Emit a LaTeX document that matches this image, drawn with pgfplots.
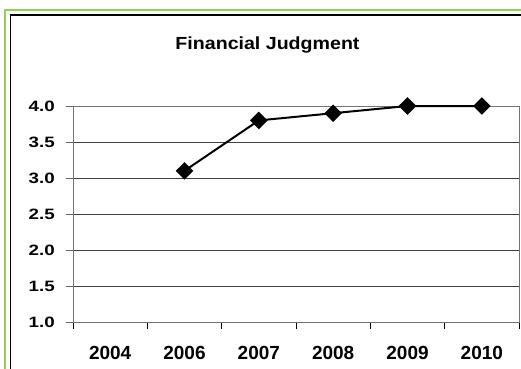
\documentclass[border=0pt]{standalone}
\usepackage{pgfplots}
\pgfplotsset{compat=1.18}
\usepackage{fontspec}
\setmainfont{Liberation Sans}
\newfontfamily\ytfont[FakeStretch=1.25]{Liberation Sans}
\newfontfamily\ttlfont[FakeStretch=1.12]{Liberation Sans}
\definecolor{frameGreen}{RGB}{146,208,80}

\begin{document}
\begin{tikzpicture}[x=1pt,y=1pt]
\path[use as bounding box] (0,0) rectangle (521,368);
\begin{scope}
  \clip (0,0) rectangle (521,368);
  \draw[frameGreen, line width=2.3pt] (5.3,358) rectangle (540,-20);
  \draw[black, line width=1.3pt] (10.8,353) rectangle (535,-20);
\end{scope}
\node[anchor=base, inner sep=0pt, font=\ttlfont\fontsize{17.5}{17.5}\selectfont\bfseries]
  at (267.5,319) {Financial Judgment};
\begin{axis}[
    at={(73pt,46pt)}, anchor=origin,
    scale only axis,
    width=446pt, height=216pt,
    xmin=0.5, xmax=6.5,
    ymin=1, ymax=4,
    xtick={1,...,6},
    xticklabels={2004,2006,2007,2008,2009,2010},
    minor xtick={0.5,1.5,...,6.5},
    ytick={1,1.5,...,4},
    xtick pos=bottom, ytick pos=left,
    major x tick style={draw=none},
    tick align=outside,
    major tick length=7pt,
    minor tick length=7pt,
    x tick style={black, line width=1pt},
    y tick style={black!60, line width=1pt},
    ymajorgrids,
    major grid style={black!75, line width=1pt},
    axis line style={line width=1pt, black!55},
    every outer x axis line/.style={black},
    /pgf/number format/assume math mode=true,
    yticklabel={\pgfmathprintnumber[fixed,fixed zerofill,precision=1]{\tick}},
    yticklabel style={anchor=east, inner sep=0pt, xshift=-11pt,
      font=\ytfont\fontsize{15}{15}\selectfont\bfseries},
    xticklabel style={anchor=base, inner sep=0pt, yshift=-30pt,
      font=\fontsize{19}{19}\selectfont\bfseries},
    clip=false,
]
\addplot[black, line width=2pt, mark=square*, mark size=5.2pt,
  mark options={rotate=45, solid, fill=black}] coordinates {
    (2,3.1) (3,3.8) (4,3.9) (5,4.0) (6,4.0)
};
\end{axis}
\end{tikzpicture}
\end{document}
